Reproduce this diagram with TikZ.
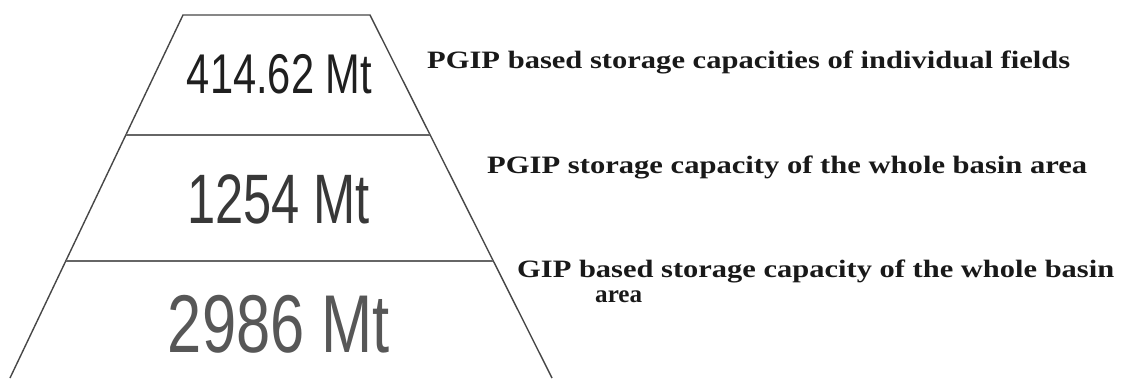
\documentclass[tikz,border=0pt]{standalone}
\usepackage{fontspec}
\setmainfont{Liberation Serif}
\newfontfamily\numfont{Liberation Sans}
\usepackage{graphicx}
\usetikzlibrary{calc}
\newcommand{\fitw}[2]{\resizebox{#1}{\height}{#2}}
\begin{document}
\begin{tikzpicture}[x=1bp,y=-1bp,
  edge/.style={draw=black!72, line width=1.4bp, line join=miter},
  divider/.style={draw=black!60, line width=1.8bp},
  num/.style={inner sep=0pt, anchor=base},
  lab/.style={inner sep=0pt, anchor=base west, text=black!90,
    font=\fontsize{25bp}{22bp}\selectfont\bfseries}]
\useasboundingbox (0,0) rectangle (1124,380);
\coordinate (tl) at (183,15);
\coordinate (tr) at (370,15);
\coordinate (bl) at (10,378);
\coordinate (br) at (552,378);
\draw[edge] (bl) -- (tl) -- (tr) -- (br);
\coordinate (d1l) at ($(tl)!0.3306!(bl)$);
\coordinate (d1r) at ($(tr)!0.3306!(br)$);
\coordinate (d2l) at ($(tl)!0.6777!(bl)$);
\coordinate (d2r) at ($(tr)!0.6777!(br)$);
\draw[divider] (d1l) -- (d1r);
\draw[divider] (d2l) -- (d2r);
\node[num, text=black!88, font=\numfont\fontsize{56bp}{60bp}\selectfont] (n1) at (279.5,93) {\fitw{185bp}{414.62 Mt}};
\node[num, text=black!78, font=\numfont\fontsize{70bp}{74bp}\selectfont] (n2) at (278.5,223) {\fitw{183bp}{1254 Mt}};
\node[num, text=black!66, font=\numfont\fontsize{82bp}{86bp}\selectfont] (n3) at (279,352) {\fitw{222bp}{2986 Mt}};
\node[lab] (l1) at (427,68) {\fitw{643bp}{PGIP based storage capacities of individual fields}};
\node[lab] (l2) at (487,173) {\fitw{600bp}{PGIP storage capacity of the whole basin area}};
\node[lab] (l3a) at (517,277) {\fitw{597bp}{GIP based storage capacity of the whole basin}};
\node[lab] (l3b) at (595,302) {\fitw{47bp}{area}};
\end{tikzpicture}
\end{document}
